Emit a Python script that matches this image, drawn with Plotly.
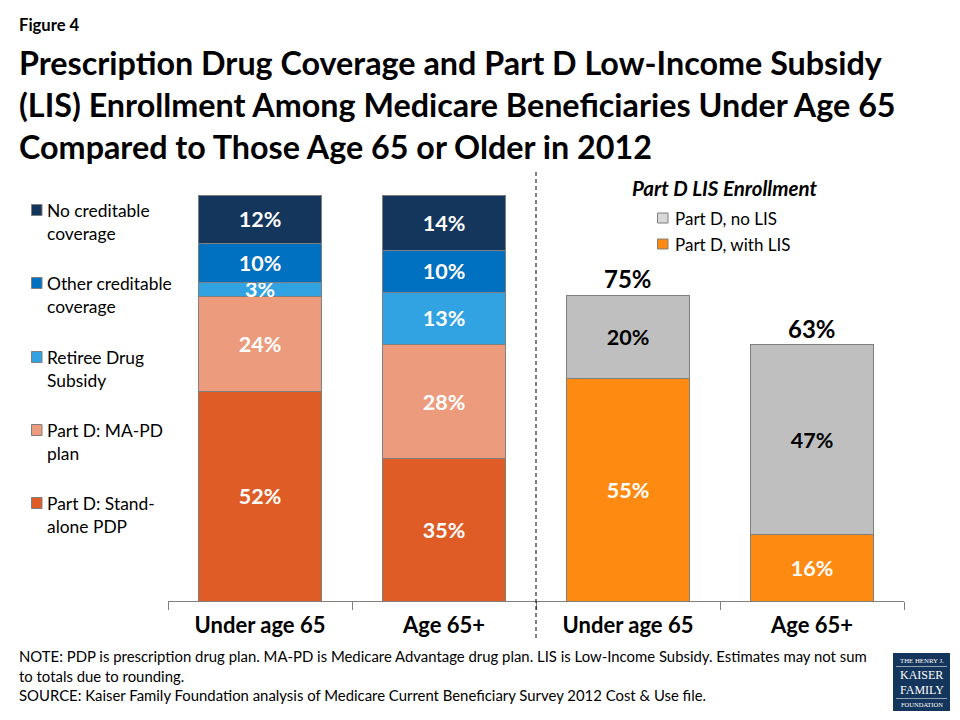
import plotly.graph_objects as go

FONT = "Lato"
x_positions = [0, 1, 2, 3]
x_labels = ["Under age 65", "Age 65+", "Under age 65", "Age 65+"]
tick_edges = [-0.5, 0.5, 1.5, 2.5, 3.5]

coverage_x = [0, 1]
standalone = [51.7, 35.0]
ma_pd = [23.4, 28.1]
retiree = [3.4, 13.0]
other = [9.6, 10.3]
none_cred = [11.8, 13.6]
standalone_txt = ["52%", "35%"]
ma_pd_txt = ["24%", "28%"]
retiree_txt = ["3%", "13%"]
other_txt = ["10%", "10%"]
none_txt = ["12%", "14%"]

lis_x = [2, 3]
with_lis = [54.9, 16.3]
no_lis = [20.4, 46.8]
with_lis_txt = ["55%", "16%"]
no_lis_txt = ["20%", "47%"]
lis_total = [75.3, 63.1]
lis_total_txt = ["75%", "63%"]

EDGE = "#7f7f7f"
fig = go.Figure()


def add(x, y, name, color, text, txtcolor):
    fig.add_trace(go.Bar(
        x=x, y=y, name=name, text=text, width=0.668, showlegend=False,
        marker=dict(color=color, line=dict(color=EDGE, width=1)),
        textposition="inside", insidetextanchor="middle", textangle=0,
        constraintext="none",
        textfont=dict(family=FONT, size=21.5, color=txtcolor, weight="bold"),
        hoverinfo="skip",
    ))


add(coverage_x, standalone, "Part D: Stand-alone PDP", "#df5c27", standalone_txt, "white")
add(coverage_x, ma_pd, "Part D: MA-PD plan", "#ec9c7c", ma_pd_txt, "white")
add(coverage_x, retiree, "Retiree Drug Subsidy", "#31a2e2", retiree_txt, "white")
add(coverage_x, other, "Other creditable coverage", "#0070c0", other_txt, "white")
add(coverage_x, none_cred, "No creditable coverage", "#14365c", none_txt, "white")
add(lis_x, with_lis, "Part D, with LIS", "#ff8a12", with_lis_txt, "white")
add(lis_x, no_lis, "Part D, no LIS", "#bfbfbf", no_lis_txt, "black")

for xv, yv, t in zip(lis_x, lis_total, lis_total_txt):
    fig.add_annotation(x=xv, y=yv, text=f"<b>{t}</b>", xref="x", yref="y", showarrow=False,
                       yanchor="bottom", yshift=0,
                       font=dict(family=FONT, size=24, color="black"))


def px(x):
    return (x - 168) / 736


def py(y):
    return (601 - y) / 406


def text(x, y, t, size, color="black", family=FONT, anchor="left", yanchor="middle"):
    fig.add_annotation(text=t, xref="paper", yref="paper", x=px(x), y=py(y), xanchor=anchor,
                       yanchor=yanchor, align="left", showarrow=False,
                       font=dict(family=family, size=size, color=color))


def rect(x0, y0, x1, y1, fill, line=EDGE, width=1):
    fig.add_shape(type="rect", xref="paper", yref="paper", x0=px(x0), x1=px(x1), y0=py(y0), y1=py(y1),
                  fillcolor=fill, line=dict(color=line, width=width))


# divider
fig.add_shape(type="line", xref="x", yref="paper", x0=1.5, x1=1.5, y0=py(638), y1=py(172),
              line=dict(color="black", width=1, dash="4px,3px"))

# left legend
for name, color, yc in [("No creditable<br>coverage", "#14365c", 210),
                        ("Other creditable<br>coverage", "#0070c0", 283),
                        ("Retiree Drug<br>Subsidy", "#31a2e2", 357),
                        ("Part D: MA-PD<br>plan", "#ec9c7c", 430),
                        ("Part D: Stand-<br>alone PDP", "#df5c27", 503)]:
    rect(31.5, yc - 5.5, 42, yc + 5.5, color)
    text(45, yc - 12, name, 17.4, yanchor="top")

# right legend
text(630, 188, "<b><i>Part D LIS Enrollment</i></b>", 20.5)
for name, color, yc in [("Part D, no LIS", "#d9d9d9", 218), ("Part D, with LIS", "#ff8a12", 244)]:
    rect(657.5, yc - 5, 668, yc + 5, color)
    text(673, yc, name, 17)

# header and notes
text(17, 25, "<b>Figure 4</b>", 16.6)
text(17, 656, "NOTE: PDP is prescription drug plan. MA-PD is Medicare Advantage drug plan. LIS is Low-Income Subsidy. Estimates may not sum", 14.9)
text(17, 676, "to totals due to rounding.", 14.9)
text(17, 695, "SOURCE: Kaiser Family Foundation analysis of Medicare Current Beneficiary Survey 2012 Cost &amp; Use file.", 14.9)

# logo
rect(893, 653, 950, 711, "#14365c", line="#14365c", width=0)
for y in (666.5, 698.5):
    fig.add_shape(type="line", xref="paper", yref="paper", x0=px(896), x1=px(947), y0=py(y), y1=py(y),
                  line=dict(color="#c8d2dc", width=0.7))
for t, y, size in [("THE HENRY J.", 660, 6.8), ("KAISER", 674.5, 12), ("FAMILY", 690.3, 12), ("FOUNDATION", 704, 6.5)]:
    text(921.5, y, t, size, color="white", family="Liberation Serif", anchor="center")

fig.update_layout(
    width=960, height=720, barmode="stack",
    paper_bgcolor="white", plot_bgcolor="white",
    margin=dict(l=168, r=56, t=195, b=119, autoexpand=False),
    font=dict(family=FONT, color="black"),
    showlegend=False,
    title=dict(text="<b>Prescription Drug Coverage and Part D Low-Income Subsidy<br>(LIS) Enrollment Among Medicare Beneficiaries Under Age 65<br>Compared to Those Age 65 or Older in 2012</b>",
               x=19 / 960, xanchor="left", xref="container", y=1 - 75 / 720, yanchor="top", yref="container",
               font=dict(family=FONT, size=32.3, color="black")),
    xaxis=dict(range=[-0.5, 3.5], tickvals=x_positions, ticktext=x_labels, ticks="", showgrid=False,
               zeroline=False, showline=True, linecolor=EDGE, linewidth=1, ticklabelstandoff=5,
               tickfont=dict(family=FONT, size=22, color="black", weight="bold"),
               minor=dict(tickmode="array", tickvals=tick_edges, ticks="outside", ticklen=8,
                          tickcolor=EDGE, tickwidth=1, showgrid=False)),
    yaxis=dict(range=[0, 100], visible=False),
)
fig.write_html("out.html", post_script="document.body.style.margin='0';",
               config={"displayModeBar": False})
